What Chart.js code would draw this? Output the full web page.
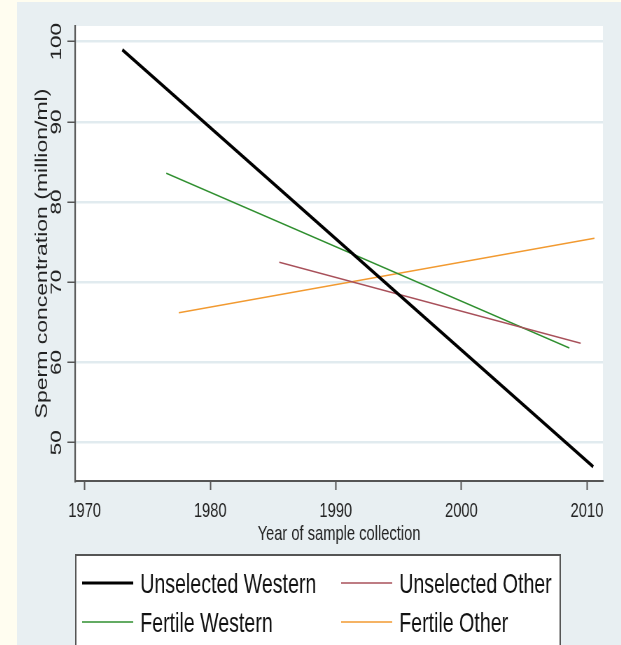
<!DOCTYPE html>
<html>
<head>
<meta charset="utf-8">
<script src="https://cdn.jsdelivr.net/npm/chart.js@4.4.1/dist/chart.umd.min.js"></script>
<style>
  html, body { margin: 0; padding: 0; background: #fffdf0; overflow: hidden; }
  #wrap { position: absolute; left: 17px; top: 2px; width: 604px; height: 643px; background: #e8eff2; overflow: hidden; }
  /* the original graph is squeezed horizontally, so draw wide and scale down */
  #chart { position: absolute; left: 0; top: 0; transform: scaleX(0.7); transform-origin: 0 0; }
</style>
</head>
<body>
<div id="wrap"><canvas id="chart" width="863" height="643"></canvas></div>
<script>
// fitted lines (start and end of each)
var uwYears = [1973.0, 2010.5];
var uwConc = [99.0, 47.0];
var uoYears = [1985.5, 2009.5];
var uoConc = [72.5, 62.4];
var fwYears = [1976.5, 2008.6];
var fwConc = [83.6, 61.8];
var foYears = [1977.5, 2010.6];
var foConc = [66.2, 75.5];

var seriesNames = ["Unselected Western", "Unselected Other", "Fertile Western", "Fertile Other"];
var xTicks = [1970, 1980, 1990, 2000, 2010];
var yTicks = [50, 60, 70, 80, 90, 100];

var FONT = "'Liberation Sans', Arial, sans-serif";

function pts(xs, ys) {
    var out = [];
    for (var i = 0; i < xs.length; i++) out.push({x: xs[i], y: ys[i]});
    return out;
}

function line_set(name, xs, ys, color, width) {
    return {
        label: name,
        data: pts(xs, ys),
        borderColor: color,
        backgroundColor: color,
        borderWidth: width,
        pointRadius: 0,
        fill: false,
        tension: 0
    };
}

var data = {
    datasets: [
        line_set(seriesNames[0], uwYears, uwConc, "#000000", 3.5),
        line_set(seriesNames[1], uoYears, uoConc, "#a8505a", 1.5),
        line_set(seriesNames[2], fwYears, fwConc, "#2f8f2f", 1.5),
        line_set(seriesNames[3], foYears, foConc, "#f29a30", 1.5)
    ]
};

// white plot region
var plotBg = {
    id: "plotBg",
    beforeDraw: function(chart) {
        var a = chart.chartArea, ctx = chart.ctx;
        ctx.save();
        ctx.fillStyle = "#ffffff";
        ctx.fillRect(a.left, a.top, a.right - a.left, a.bottom - a.top);
        ctx.restore();
    }
};

// rotated y tick labels, as in the original
var yLabels = {
    id: "yLabels",
    afterDraw: function(chart) {
        var ctx = chart.ctx, sc = chart.scales.y;
        ctx.save();
        ctx.font = "22.5px " + FONT;
        ctx.fillStyle = "#222";
        ctx.textAlign = "center";
        ctx.textBaseline = "middle";
        yTicks.forEach(function(v) {
            var py = sc.getPixelForValue(v);
            ctx.save();
            ctx.translate(57, py);
            ctx.rotate(-Math.PI / 2);
            ctx.fillText(String(v), 0, 0);
            ctx.restore();
        });
        ctx.restore();
    }
};

// boxed two-column legend under the graph
var boxLegend = {
    id: "boxLegend",
    afterDraw: function(chart) {
        var ctx = chart.ctx;
        var left = 84, right = 776, top = 553;
        ctx.save();
        ctx.fillStyle = "#ffffff";
        ctx.fillRect(left, top, right - left, 120);
        ctx.strokeStyle = "#555";
        ctx.lineWidth = 2;
        ctx.strokeRect(left, top, right - left, 120);
        var cols = [93, 463], rows = [581, 620];
        ctx.font = "28px " + FONT;
        ctx.textBaseline = "alphabetic";
        ctx.textAlign = "left";
        chart.data.datasets.forEach(function(ds, i) {
            var cx = cols[i % 2], cy = rows[Math.floor(i / 2)];
            ctx.strokeStyle = ds.borderColor;
            ctx.lineWidth = ds.borderWidth > 2 ? 3 : 1.3;
            ctx.beginPath();
            ctx.moveTo(cx, cy);
            ctx.lineTo(cx + 73, cy);
            ctx.stroke();
            ctx.fillStyle = "#111";
            ctx.fillText(ds.label, cx + 83, cy + 10);
        });
        ctx.restore();
    }
};

var chart = new Chart(document.getElementById("chart").getContext("2d"), {
    type: "line",
    data: data,
    options: {
        responsive: false,
        animation: false,
        layout: { padding: { top: 24, right: 26, left: 0, bottom: 94 } },
        plugins: {
            legend: { display: false },
            tooltip: { enabled: false }
        },
        scales: {
            x: {
                type: "linear",
                min: 1969.24,
                max: 2011.27,
                afterBuildTicks: function(s) { s.ticks = xTicks.map(function(v) { return {value: v}; }); },
                afterFit: function(s) { s.height = 70; },
                ticks: {
                    font: { size: 21, family: FONT },
                    color: "#222",
                    padding: 9,
                    maxRotation: 0,
                    callback: function(v) { return String(v); }
                },
                grid: { drawOnChartArea: false, drawTicks: true, tickLength: 9, tickColor: "#555", tickWidth: 2 },
                border: { color: "#555", width: 2 },
                title: {
                    display: true,
                    text: "Year of sample collection",
                    font: { size: 21, family: FONT },
                    color: "#222",
                    padding: { top: 0, bottom: 4 }
                }
            },
            y: {
                type: "linear",
                min: 45.22,
                max: 101.96,
                afterBuildTicks: function(s) { s.ticks = yTicks.map(function(v) { return {value: v}; }); },
                afterFit: function(s) { s.width = 83; },
                ticks: { display: false },
                grid: { color: "#e1ebef", lineWidth: 2.5, drawTicks: true, tickLength: 11, tickColor: "#555", tickWidth: 1.5 },
                border: { color: "#555", width: 2.2 },
                title: {
                    display: true,
                    text: "Sperm concentration (million/ml)",
                    font: { size: 23, family: FONT },
                    color: "#222",
                    padding: { top: 23, bottom: 0 }
                }
            }
        }
    },
    plugins: [plotBg, yLabels, boxLegend]
});
</script>
</body>
</html>
